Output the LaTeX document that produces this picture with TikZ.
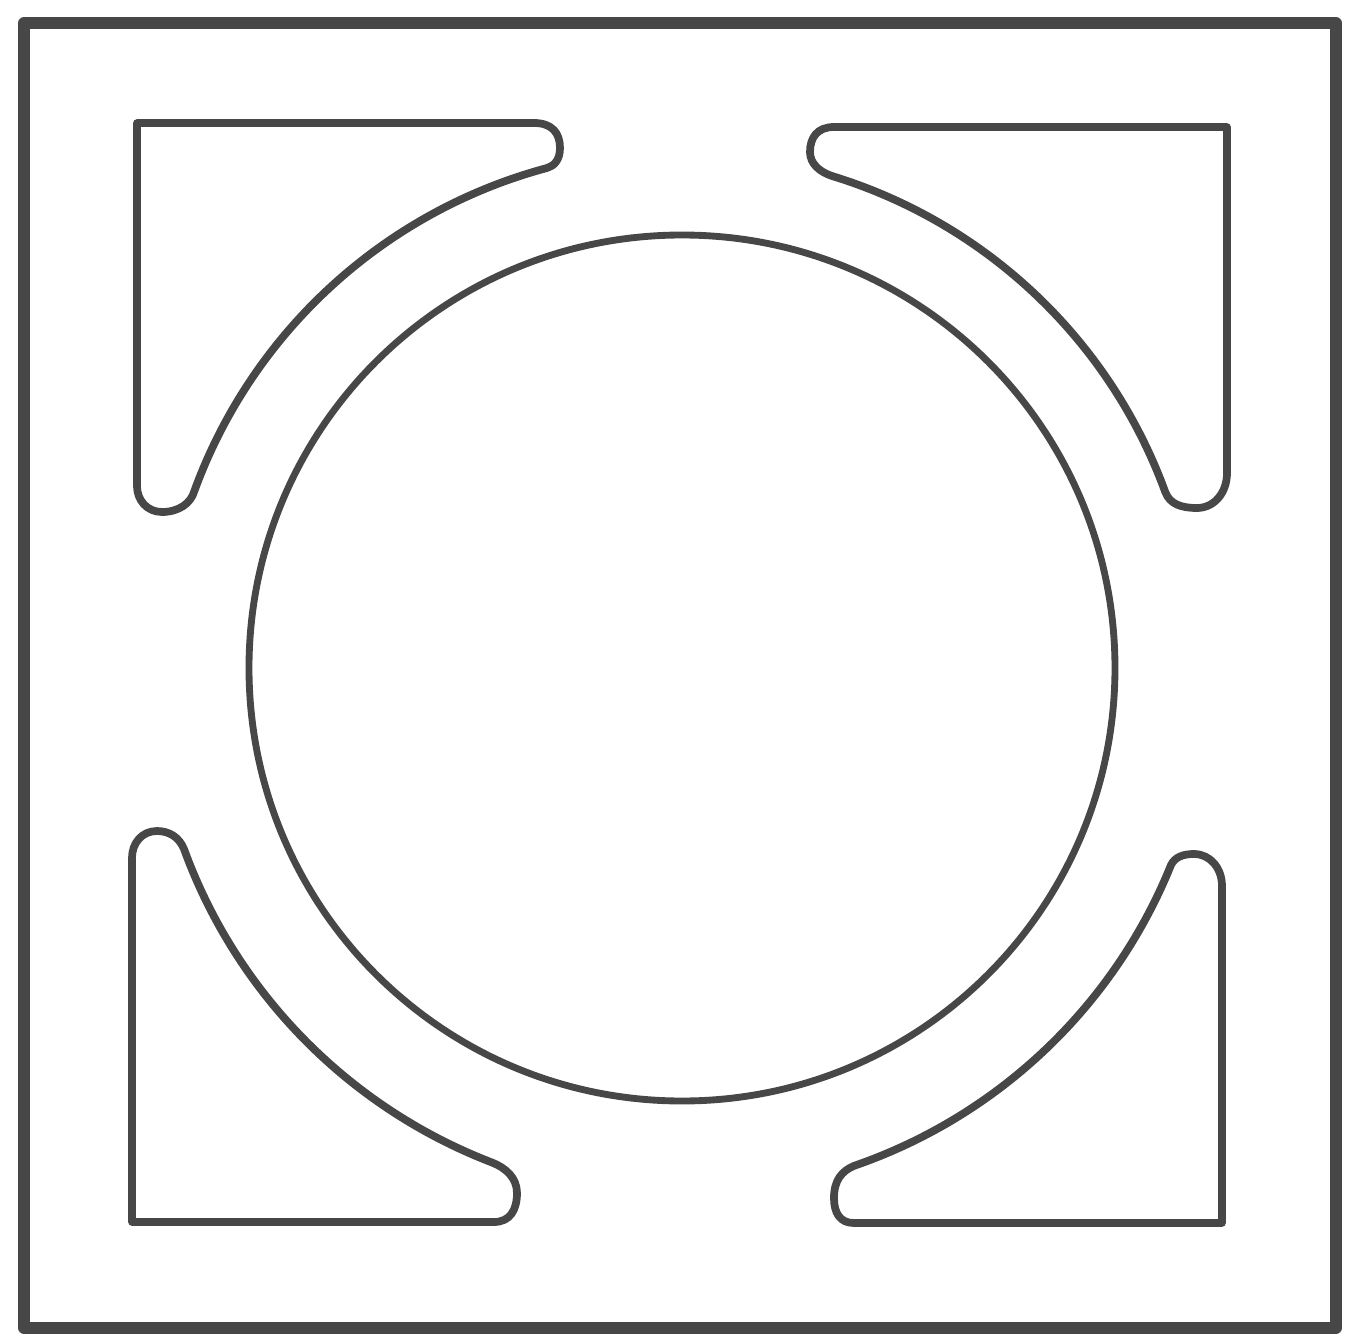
\documentclass[tikz,border=0pt]{standalone}
\begin{document}
\begin{tikzpicture}[x=0.02cm, y=0.02cm, line join=round,
    frame/.style={draw=black!72, line width=6.5pt},
    piece/.style={draw=black!72, line width=4.4pt},
    ring/.style={draw=black!72, line width=3.9pt}]
  \useasboundingbox (-682,-675) rectangle (677,668);
  % cadre extérieur
  \draw[frame] (-658,-660) rectangle (654,645);

  % disque central
  \draw[ring] (0,0) circle (433);

  % coin haut gauche
  \draw[piece] (-545,545) -- (-148,545) .. controls (-130,545) and (-122,535) .. (-122,520)
    .. controls (-122,508) and (-128,502) .. (-135,500) arc (105:160:518)
    .. controls (-491,165) and (-503,156) .. (-520,156)
    .. controls (-535,156) and (-545,168) .. (-545,182) -- cycle;
  % coin haut droit
  \draw[piece] (545,541) -- (152,541) .. controls (135,541) and (128,530) .. (128,516)
    .. controls (128,504) and (138,496) .. (150,492) arc (73:20:515)
    .. controls (488,164) and (499,160) .. (515,160)
    .. controls (532,160) and (545,175) .. (545,195) -- cycle;
  % coin bas gauche
  \draw[piece] (-550,-554) -- (-550,-190) .. controls (-550,-175) and (-540,-163) .. (-525,-163)
    .. controls (-513,-163) and (-503,-169) .. (-498,-181) arc (200:249:530)
    .. controls (-176,-500) and (-165,-510) .. (-165,-525)
    .. controls (-165,-542) and (-172,-554) .. (-188,-554) -- cycle;
  % coin bas droit
  \draw[piece] (540,-555) -- (540,-218) .. controls (540,-200) and (528,-186) .. (512,-186)
    .. controls (501,-186) and (493,-189) .. (489,-197) arc (-22:-71:527)
    .. controls (160,-503) and (152,-512) .. (152,-530)
    .. controls (152,-545) and (158,-555) .. (172,-555) -- cycle;
\end{tikzpicture}
\end{document}
